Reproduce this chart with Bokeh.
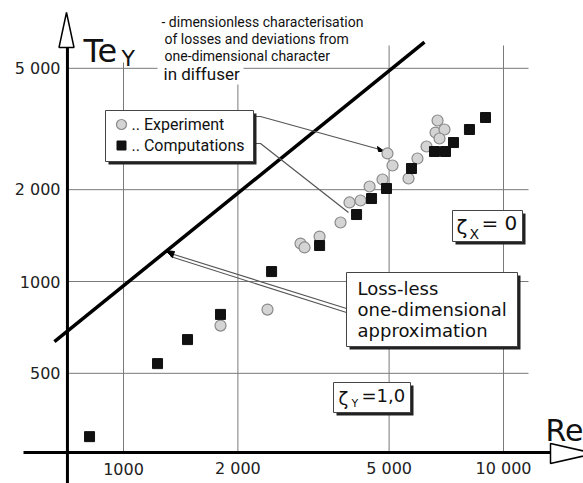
from bokeh.plotting import figure
from bokeh.models import Range1d
from bokeh.core.properties import value
from bokeh.embed import file_html
from bokeh.resources import INLINE

# ---------------- data ----------------
X_TICKS = [1000, 2000, 5000, 10000]
X_TICK_LABELS = ["1000", "2 000", "5 000", "10 000"]
Y_TICKS = [500, 1000, 2000, 5000]
Y_TICK_LABELS = ["500", "1000", "2 000", "5 000"]

EXP_RE = [1800, 2393, 2923, 2995, 3281, 3725, 3933, 4205, 4442, 4804,
          4951, 5104, 5623, 5937, 6272, 6706, 6625, 6993, 6786]
EXP_TE = [717, 809, 1332, 1293, 1404, 1561, 1816, 1843, 2049, 2160,
          2629, 2401, 2176, 2531, 2771, 3372, 3079, 3150, 2943]

COMP_RE = [814, 1229, 1474, 1800, 2453, 3281, 4105, 4495, 4922, 5726,
           6582, 7037, 7386, 8136, 8967]
COMP_TE = [310, 538, 645, 780, 1078, 1312, 1658, 1871, 2018, 2347,
           2668, 2668, 2855, 3150, 3449]

LOSSLESS_RE = [658, 6195]
LOSSLESS_TE = [635, 6090]

AXIS_RE = 712   # where the drawn axes cross
AXIS_TE = 275


# canvas pixel -> data helpers (for annotations only)
def rx(px):
    return 10 ** (3 + (px - 123) / 380)


def ty(py):
    return 10 ** (3 - (py - 281) / 305)


W, H = 583, 483
p = figure(width=W, height=H, x_axis_type="log", y_axis_type="log",
           x_range=Range1d(rx(0), rx(W)), y_range=Range1d(ty(H), ty(0)),
           x_axis_location=None, y_axis_location=None,
           toolbar_location=None, output_backend="svg", min_border=0,
           outline_line_color=None)
p.grid.grid_line_color = None
p.background_fill_color = "white"

GRID = "#7a7a7a"
# grid lines
p.segment(x0=X_TICKS, y0=[AXIS_TE] * 4, x1=X_TICKS, y1=[ty(45)] * 4,
          line_color=GRID, line_width=1)
p.segment(x0=[AXIS_RE] * 4, y0=Y_TICKS, x1=[rx(528)] * 4, y1=Y_TICKS,
          line_color=GRID, line_width=1)

# white backgrounds behind title texts
p.quad(left=[rx(78), rx(157), rx(157)], right=[rx(143), rx(372), rx(243)],
       top=[ty(14), ty(10), ty(62)], bottom=[ty(62), ty(62), ty(84)],
       fill_color="white", line_color=None)

# axes
p.line([AXIS_RE, AXIS_RE], [ty(500), ty(47)], line_color="black", line_width=3)
p.line([rx(23), rx(550)], [AXIS_TE, AXIS_TE], line_color="black", line_width=3)
p.patch([rx(58.5), rx(66), rx(73.5)], [ty(47), ty(12), ty(47)],
        fill_color="white", line_color="black", line_width=1.5)
p.patch([rx(550), rx(594), rx(550)], [ty(443), ty(453), ty(463)],
        fill_color="white", line_color="black", line_width=1.5)

# loss-less line
p.line(LOSSLESS_RE, LOSSLESS_TE, line_color="black", line_width=3.5)

# leader lines
LEAD = "#555555"
p.line([rx(254), rx(260), rx(383)], [ty(116), ty(116), ty(150)], line_color=LEAD, line_width=1.2)
p.line([rx(255), rx(260), rx(348)], [ty(143), ty(143), ty(212)], line_color=LEAD, line_width=1.2)
p.line([rx(167), rx(346)], [ty(252), ty(308)], line_color=LEAD, line_width=1.1)
p.line([rx(170), rx(346)], [ty(256), ty(312)], line_color=LEAD, line_width=1.1)
p.patch([rx(165), rx(174), rx(172)], [ty(250), ty(251), ty(257)], fill_color="black", line_color="black")
p.patch([rx(384), rx(377), rx(378)], [ty(151), ty(146), ty(151)], fill_color="black", line_color="black")

# data markers
p.scatter(EXP_RE, EXP_TE, marker="circle", size=11, fill_color="#d4d4d4",
          line_color="#8a8a8a", line_width=1.2)
p.scatter(COMP_RE, COMP_TE, marker="square", size=10, fill_color="#111111",
          line_color="#111111")


def box(x0, y0, x1, y1, sh=3):
    p.quad(left=[rx(x0 + sh)], right=[rx(x1 + sh)], top=[ty(y0 + sh)], bottom=[ty(y1 + sh)],
           fill_color="#222222", line_color=None)
    p.quad(left=[rx(x0)], right=[rx(x1)], top=[ty(y0)], bottom=[ty(y1)],
           fill_color="white", line_color="#444444", line_width=1)


def txt(px, py, s, size, font="DejaVu Sans", align="left", baseline="middle", color="#111111"):
    p.text(x=[rx(px)], y=[ty(py)], text=[s], text_font=value(font),
           text_font_size=value(f"{size}px"), text_align=align,
           text_baseline=baseline, text_color=color)


# tick labels
p.text(x=X_TICKS, y=[ty(468)] * 4, text=X_TICK_LABELS, text_align="center",
       text_baseline="middle", text_font=value("DejaVu Sans"),
       text_font_size=value("16px"), text_color="#222222")
p.text(x=[rx(60)] * 4, y=Y_TICKS, text=Y_TICK_LABELS, text_align="right",
       text_baseline="middle", text_font=value("DejaVu Sans"),
       text_font_size=value("16px"), text_color="#222222")

# axis titles
txt(83, 50, "Te", 32, baseline="alphabetic")
txt(121, 58, "Y", 22, baseline="alphabetic")
txt(545, 430, "Re", 30, baseline="alphabetic")

# title text
txt(161, 21, "- dimensionless characterisation", 14, font="Roboto")
txt(164, 38, "of losses and deviations from", 14, font="Roboto")
txt(164, 55, "one-dimensional character", 14, font="Roboto")
txt(163, 73, "in diffuser", 17, font="Roboto")

# legend box
box(105, 110, 253, 161)
p.scatter([rx(121)], [ty(124)], marker="circle", size=10, fill_color="#d4d4d4",
          line_color="#8a8a8a", line_width=1.2)
p.scatter([rx(121)], [ty(145)], marker="square", size=9, fill_color="#111111",
          line_color="#111111")
txt(131, 124, ".. Experiment", 16, font="Roboto")
txt(131, 145, ".. Computations", 16, font="Roboto")

# loss-less box
box(346, 272, 517, 346)
txt(357, 288, "Loss-less", 18)
txt(357, 309, "one-dimensional", 18)
txt(357, 330, "approximation", 18)

# mu boxes
box(452, 210, 522, 241)
txt(456, 226, "ζ", 20)
txt(469, 233, "X", 14)
txt(481, 222, "= 0", 20)

box(333, 382, 410, 412)
txt(338, 398, "ζ", 18)
txt(351, 403, "Y", 11)
txt(361, 395, "=1,0", 18)

open("out.html", "w").write(file_html(p, INLINE))
